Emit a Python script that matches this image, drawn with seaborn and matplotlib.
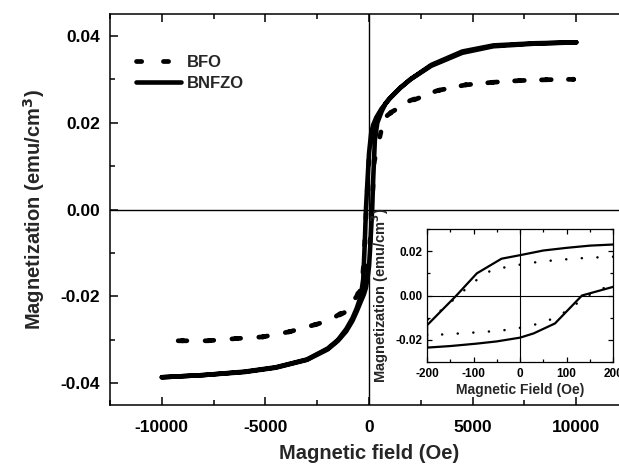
import matplotlib
matplotlib.use("Agg")
import matplotlib.pyplot as plt
import seaborn as sns
from matplotlib.ticker import FormatStrFormatter, MultipleLocator

# --- Datos del gráfico principal: lazos M-H (rama descendente + rama ascendente) ---
bfo_h = [9870, 8580, 7260, 5960, 4640, 3300, 1980, 1100, 660, 400, 200, 0, -135, -250, -340, -600, -1110,
         -1800, -2460, -3820, -5120, -6430, -7780, -9650,
         -9650, -7780, -6430, -5120, -3820, -2460, -1800, -1110, -600, -340, -200, 0, 135, 250, 435, 676,
         1100, 1980, 3300, 4640, 5960, 7260, 8580, 9870]
bfo_m = [0.0300, 0.0299, 0.0297, 0.0293, 0.0287, 0.0274, 0.0251, 0.0226, 0.0207, 0.0185, 0.0160, 0.0120,
         0.0000, -0.0120, -0.0169, -0.0200, -0.0231, -0.0252, -0.0263, -0.0281, -0.0293, -0.0297, -0.0302,
         -0.0302,
         -0.0302, -0.0302, -0.0297, -0.0293, -0.0281, -0.0263, -0.0252, -0.0235, -0.0205, -0.0175, -0.0150,
         -0.0120, 0.0000, 0.0110, 0.0150, 0.0200, 0.0225, 0.0249, 0.0274, 0.0287, 0.0293, 0.0297, 0.0299,
         0.0300]

bnfzo_h = [10000, 8000, 6000, 4500, 3000, 2000, 1500, 1000, 600, 350, 200, 100, 0, -100, -150, -200, -280,
           -400, -600, -800, -1100, -1500, -2000, -3000, -4500, -6000, -8000, -10000,
           -10000, -8000, -6000, -4500, -3000, -2000, -1500, -1100, -800, -600, -400, -250, -150, -50, 0, 50,
           150, 200, 280, 400, 600, 800, 1000, 1500, 2000, 3000, 4500, 6000, 8000, 10000]
bnfzo_m = [0.0385, 0.0383, 0.0378, 0.0364, 0.0333, 0.0300, 0.0280, 0.0256, 0.0232, 0.0212, 0.0195, 0.0175,
           0.0130, 0.0045, 0.0000, -0.0070, -0.0160, -0.0200, -0.0228, -0.0250, -0.0275, -0.0300, -0.0320,
           -0.0345, -0.0363, -0.0373, -0.0381, -0.0386,
           -0.0386, -0.0381, -0.0374, -0.0364, -0.0346, -0.0322, -0.0302, -0.0280, -0.0256, -0.0235, -0.0212,
           -0.0195, -0.0180, -0.0150, -0.0130, -0.0090, 0.0000, 0.0070, 0.0160, 0.0200, 0.0225, 0.0245,
           0.0256, 0.0280, 0.0300, 0.0331, 0.0361, 0.0376, 0.0382, 0.0385]

# --- Datos del recuadro (zoom -200..200 Oe) ---
ins_bfo_h = [200, 178, 144, 109, 75, 40, 5, -29, -65, -99, -169, -198,
             -200, -191, -155, -120, -85, -50, -16, 19, 54, 88, 122, 157, 200]
ins_bfo_m = [0.0175, 0.0173, 0.0170, 0.0165, 0.0159, 0.0152, 0.0141, 0.0129, 0.0110, 0.0062, -0.0066, -0.0104,
             -0.0180, -0.0179, -0.0174, -0.0170, -0.0165, -0.0160, -0.0152, -0.0138, -0.0119, -0.0086, -0.0036,
             0.0014, 0.0050]

ins_bnfzo_h = [200, 150, 100, 50, 0, -40, -93, -137, -200,
               -200, -150, -93, -50, 0, 29, 75, 133, 200]
ins_bnfzo_m = [0.0230, 0.0225, 0.0215, 0.0203, 0.0182, 0.0166, 0.0100, 0.0000, -0.0134,
               -0.0235, -0.0228, -0.0217, -0.0207, -0.0190, -0.0171, -0.0126, 0.0000, 0.0039]

sns.set_style("ticks")
plt.rcParams["font.family"] = ["Liberation Sans", "DejaVu Sans"]
plt.rcParams["font.weight"] = "bold"
plt.rcParams["axes.labelweight"] = "bold"
plt.rcParams["axes.unicode_minus"] = False


def estilo_ejes(ax, lw, major, minor, size, padx, pady):
    for s in ax.spines.values():
        s.set_linewidth(lw)
        s.set_color("black")
    ax.tick_params(which="both", direction="in", top=True, right=True, colors="black",
                   width=lw, labelsize=size)
    ax.tick_params(which="major", length=major)
    ax.tick_params(which="minor", length=minor)
    ax.tick_params(axis="x", pad=padx)
    ax.tick_params(axis="y", pad=pady)
    for lab in ax.get_xticklabels() + ax.get_yticklabels():
        lab.set_fontweight("bold")


fig = plt.figure(figsize=(6.19, 4.71), dpi=100)
ax = fig.add_axes([0.1777, 0.140, 0.837, 0.830])

sns.lineplot(x=bfo_h, y=bfo_m, sort=False, estimator=None, ax=ax, color="black", lw=3.4,
             linestyle=(0, (1.1, 4.6)), dash_capstyle="round", label="BFO")
sns.lineplot(x=bnfzo_h, y=bnfzo_m, sort=False, estimator=None, ax=ax, color="black", lw=3.3,
             solid_capstyle="round", solid_joinstyle="round", label="BNFZO")
ax.axhline(0, color="black", lw=1.0, zorder=0)
ax.axvline(0, color="black", lw=1.0, zorder=0)

ax.set_xlim(-12500, 12500)
ax.set_ylim(-0.045, 0.045)
ax.xaxis.set_major_locator(MultipleLocator(5000))
ax.xaxis.set_minor_locator(MultipleLocator(2500))
ax.yaxis.set_major_locator(MultipleLocator(0.02))
ax.yaxis.set_minor_locator(MultipleLocator(0.01))
ax.yaxis.set_major_formatter(FormatStrFormatter("%.2f"))
ax.set_xlabel("Magnetic field (Oe)", fontsize=14.5, fontweight="bold", labelpad=6)
ax.set_ylabel("Magnetization (emu/cm$^3$)", fontsize=14.5, fontweight="bold", labelpad=10)
estilo_ejes(ax, 1.1, 6, 3.5, 12.5, 11, 7)

ax.legend(loc="upper left", frameon=False, handlelength=2.7, handletextpad=0.35,
          labelspacing=0.4, bbox_to_anchor=(0.022, 0.935),
          prop={"weight": "bold", "size": 12})

# --- Recuadro: zoom alrededor del origen ---
axi = fig.add_axes([0.690, 0.2314, 0.3005, 0.2824])
axi.set_facecolor("white")
sns.lineplot(x=ins_bfo_h, y=ins_bfo_m, sort=False, estimator=None, ax=axi, color="black", lw=1.8,
             linestyle=(0, (0.05, 6.2)), dash_capstyle="round", legend=False)
sns.lineplot(x=ins_bnfzo_h, y=ins_bnfzo_m, sort=False, estimator=None, ax=axi, color="black", lw=1.6,
             legend=False)
axi.axhline(0, color="black", lw=0.8, zorder=0)
axi.axvline(0, color="black", lw=0.8, zorder=0)
axi.set_xlim(-200, 200)
axi.set_ylim(-0.03, 0.03)
axi.xaxis.set_major_locator(MultipleLocator(100))
axi.xaxis.set_minor_locator(MultipleLocator(50))
axi.yaxis.set_major_locator(MultipleLocator(0.02))
axi.yaxis.set_minor_locator(MultipleLocator(0.01))
axi.yaxis.set_major_formatter(FormatStrFormatter("%.2f"))
axi.set_xlabel("Magnetic Field (Oe)", fontsize=10, fontweight="bold", labelpad=2)
axi.set_ylabel("Magnetization (emu/cm$^3$)", fontsize=10.5, fontweight="bold", labelpad=3)
estilo_ejes(axi, 0.9, 3.5, 2, 8.5, 4.5, 3.5)

fig.savefig("out.png", dpi=100)
